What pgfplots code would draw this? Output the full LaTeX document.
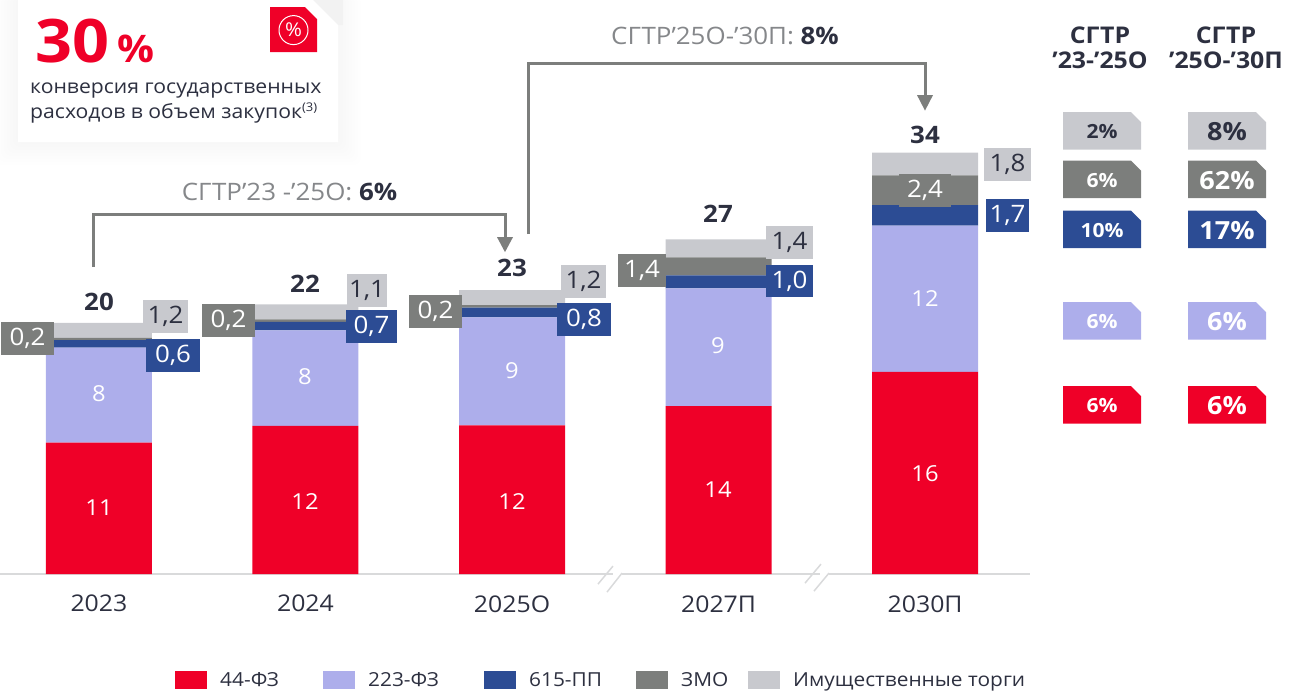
\documentclass[border=0pt]{standalone}
\usepackage{fontspec}
\usepackage{pgfplots}
\pgfplotsset{compat=1.18}
\setmainfont{Open Sans}[FakeStretch=1.08]
\definecolor{cred}{HTML}{EF0028}
\definecolor{clav}{HTML}{ADAEEB}
\definecolor{cblue}{HTML}{2C4C94}
\definecolor{cgrey}{HTML}{7C7E7C}
\definecolor{clight}{HTML}{C8C9CE}
\definecolor{ctext}{HTML}{2D3040}
\definecolor{cnote}{HTML}{85878A}
\definecolor{cline}{HTML}{D9DADB}
\newcommand{\fs}[1]{\fontsize{#1}{#1}\selectfont}
\newcommand{\B}[7]{\fill[#5] (#1,#2) rectangle (#3,#4);
  \node[inner sep=0pt,text=#6] at ({(#1+#3)/2},{(#2+#4)/2}) {\fs{24}#7};}
\newcommand{\Tag}[5]{\fill[#3] (#1,#2) -- ({#1+68},#2) -- ({#1+78},{#2+10}) -- ({#1+78},{#2+37.5}) -- (#1,{#2+37.5}) -- cycle;
  \node[inner sep=0pt,text=#4] at ({#1+39},{#2+19.5}) {#5};}
\begin{document}
\begin{tikzpicture}
\begin{scope}[x=1pt,y=-1pt]
\path[use as bounding box] (0,0) rectangle (1307,691);
% card
\foreach \d in {2,5,...,23} {\fill[black,opacity=0.005,rounded corners=8pt] ({18-\d},-5) rectangle ({338+\d},{142+\d});}
\fill[black!5] (313,0) -- (338,25) -- (343,25) -- (343,0) -- cycle;
\fill[white] (18,0) -- (313,0) -- (338,25) -- (338,142) -- (18,142) -- cycle;
\node[inner sep=0pt,anchor=base west,text=cred] at (35,62) {\fs{60}\bfseries 30};
\node[inner sep=0pt,anchor=base west,text=cred] at (117,62) {\fs{38}\bfseries \%};
\node[inner sep=0pt,anchor=base west,text=ctext] at (30,93) {\fs{19.6}конверсия государственных};
\node[inner sep=0pt,anchor=base west,text=ctext] at (30,118) {\fs{19.6}расходов в объем закупок\raisebox{7pt}{\fs{12}(3)}};
\fill[cred] (270,7) -- (305,7) -- (317,19) -- (317,52) -- (270,52) -- cycle;
\draw[white,line width=1pt] (293.5,30) circle (14.5);
\node[inner sep=0pt,text=white] at (293.5,30) {\fs{19}\%};
% brackets
\draw[cgrey,line width=3pt] (93,267) -- (93,214) -- (505,214) -- (505,240);
\fill[cgrey] (497,237) -- (513,237) -- (505,252) -- cycle;
\draw[cgrey,line width=3pt] (528,234) -- (528,63) -- (925,63) -- (925,98);
\fill[cgrey] (917,95) -- (933,95) -- (925,110.5) -- cycle;
\node[inner sep=0pt,text=cnote] at (289.5,192) {\fs{24}СГТР’23 -’25О: {\color{ctext}\bfseries 6\%}};
\node[inner sep=0pt,text=cnote] at (725,36) {\fs{24}СГТР’25О-’30П: {\color{ctext}\bfseries 8\%}};
% axis line
\draw[cline,line width=2pt] (0,574) -- (613,574) (622,574) -- (820,574) (829,574) -- (1030,574);
\draw[cline,line width=1.5pt] (598,584) -- (613,566) (607,592) -- (622,573) (805,583) -- (821,564) (814,591) -- (829,573);
\end{scope}
\begin{axis}[
  at={(0pt,-574pt)},anchor=south west,
  scale only axis,width=1030pt,height=574pt,
  xmin=-0.479,xmax=4.508,ymin=0,ymax=46.29,
  ybar stacked,bar width=106pt,bar shift=0pt,
  clip=false,
  axis line style={draw=none},
  major tick length=0pt,
  ytick=\empty,
  xtick={0,1,2,3,4},
  xticklabels={2023,2024,\raisebox{-1pt}{2025О},\raisebox{-1.5pt}{2027П},\raisebox{-1.5pt}{2030П}},
  x tick label style={anchor=base,yshift=-37pt,font=\fs{23},text=ctext},
  legend columns=-1,
  legend cell align=left,
  legend style={at={(axis description cs:0.1699,-0.1847)},anchor=west,draw=none,fill=none,inner sep=0pt,
    nodes={inner sep=0pt,font=\fs{19.3},text=ctext},
    /tikz/every even column/.append style={column sep=0pt},
    /tikz/every odd column/.append style={column sep=0pt}},
  legend image code/.code={\fill[#1] (0pt,-9pt) rectangle (32pt,9pt);\path (45pt,0pt) circle (0pt);},
]
\addplot[fill=cred,draw=none] coordinates {(0,10.6) (1,11.95) (2,12.0) (3,13.55) (4,16.3)};
\addlegendentry{\makebox[103pt][l]{44-ФЗ}}
\addplot[fill=clav,draw=none] coordinates {(0,7.66) (1,7.7) (2,8.7) (3,9.5) (4,11.8)};
\addlegendentry{\makebox[116pt][l]{223-ФЗ}}
\addplot[fill=cblue,draw=none] coordinates {(0,0.6) (1,0.7) (2,0.8) (3,1.05) (4,1.65)};
\addlegendentry{\makebox[107pt][l]{615-ПП}}
\addplot[fill=cgrey,draw=none] coordinates {(0,0.2) (1,0.2) (2,0.2) (3,1.45) (4,2.4)};
\addlegendentry{\makebox[67pt][l]{ЗМО}}
\addplot[fill=clight,draw=none] coordinates {(0,1.2) (1,1.2) (2,1.2) (3,1.45) (4,1.85)};
\addlegendentry{\makebox[232pt][l]{Имущественные торги}}
\end{axis}
\begin{scope}[x=1pt,y=-1pt]
% totals
\foreach \x/\y/\t in {99/302/20,305/284/22,512/268/23,718/214/27,925/135/34}
  {\node[inner sep=0pt,text=ctext] at (\x,\y) {\fs{24}\bfseries \t};}
% inside labels
\foreach \x/\y/\t in {99/394/8,99/508/11,305/377/8,305/501/12,512/371/9,512/501/12,718/346/9,718/489/14,925/298/12,925/474/16}
  {\node[inner sep=0pt,text=white] at (\x,\y) {\fs{22}\t};}
% value boxes
\B{1}{322}{54}{355}{cgrey}{white}{0,2}
\B{143}{300}{188}{333}{clight}{ctext}{1,2}
\B{146}{339}{200}{372}{cblue}{white}{0,6}
\B{202}{304}{255}{337}{cgrey}{white}{0,2}
\B{347}{274}{387}{307}{clight}{ctext}{1,1}
\B{346}{310}{397}{343}{cblue}{white}{0,7}
\B{409}{295}{462}{328}{cgrey}{white}{0,2}
\B{561}{265}{606}{298}{clight}{ctext}{1,2}
\B{557}{303}{611}{336}{cblue}{white}{0,8}
\B{618}{254}{666}{287}{cgrey}{white}{1,4}
\B{766}{226}{813}{259}{clight}{ctext}{1,4}
\B{766}{265}{813}{297}{cblue}{white}{1,0}
\B{899}{174}{951}{207}{cgrey}{white}{2,4}
\B{984}{148}{1031}{181}{clight}{ctext}{1,8}
\B{986}{199}{1029}{232}{cblue}{white}{1,7}
% header
\node[inner sep=0pt,text=ctext] at (1100,35) {\fs{23}\bfseries СГТР};
\node[inner sep=0pt,text=ctext] at (1100,60) {\fs{23}\bfseries ’23-’25О};
\node[inner sep=0pt,text=ctext] at (1226,35) {\fs{23}\bfseries СГТР};
\node[inner sep=0pt,text=ctext] at (1226,60) {\fs{23}\bfseries ’25О-’30П};
% tags
\Tag{1063}{112}{clight}{ctext}{\fs{19.5}\bfseries 2\%}
\Tag{1063}{160.5}{cgrey}{white}{\fs{19.5}\bfseries 6\%}
\Tag{1063}{210.5}{cblue}{white}{\fs{19.5}\bfseries 10\%}
\Tag{1063}{302}{clav}{white}{\fs{19.5}\bfseries 6\%}
\Tag{1063}{386}{cred}{white}{\fs{19.5}\bfseries 6\%}
\Tag{1188}{112}{clight}{ctext}{\fs{25}\bfseries 8\%}
\Tag{1188}{160.5}{cgrey}{white}{\fs{25}\bfseries 62\%}
\Tag{1188}{210.5}{cblue}{white}{\fs{25}\bfseries 17\%}
\Tag{1188}{302}{clav}{white}{\fs{25}\bfseries 6\%}
\Tag{1188}{386}{cred}{white}{\fs{25}\bfseries 6\%}
\end{scope}
\end{tikzpicture}
\end{document}
